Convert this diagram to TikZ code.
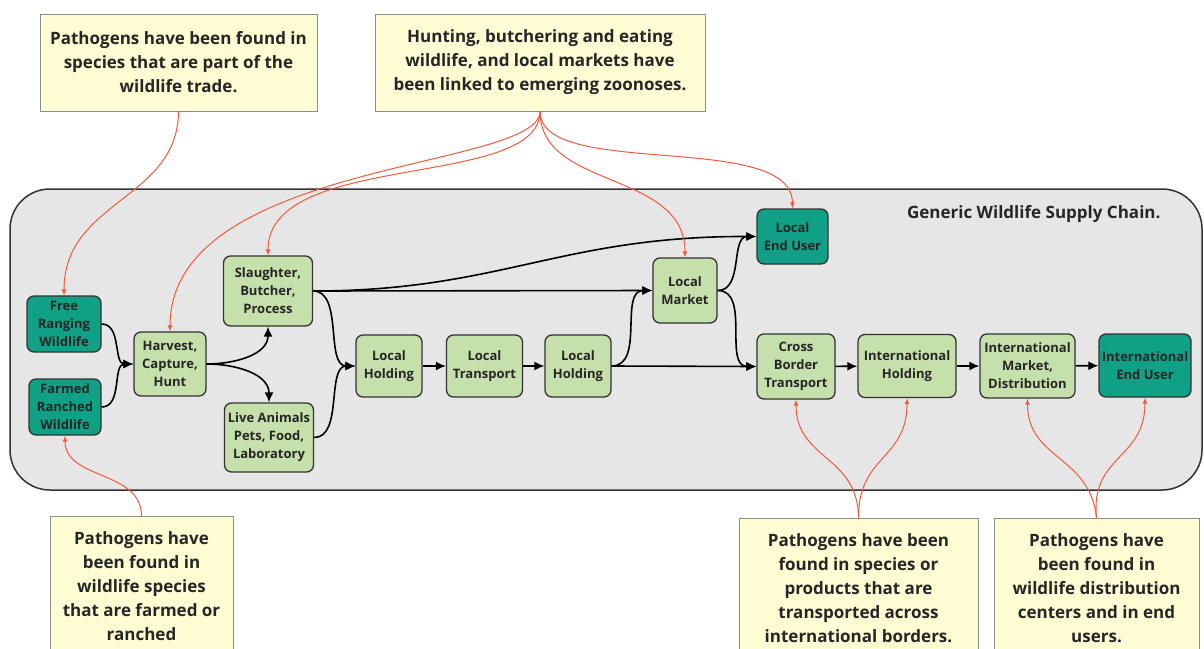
\documentclass[tikz,border=0pt]{standalone}
\usepackage{fontspec}
\setmainfont{Open Sans}
\usetikzlibrary{arrows.meta}
\definecolor{lg}{HTML}{C6E0AC}
\definecolor{dg}{HTML}{10A085}
\definecolor{panel}{HTML}{E6E6E6}
\definecolor{note}{HTML}{FEFCD2}
\definecolor{rd}{HTML}{F05A3C}
\definecolor{edge}{HTML}{333333}
\begin{document}
\begin{tikzpicture}[x=1pt,y=-1pt,
  stagebox/.style={draw=edge,line width=1.3pt,rounded corners=7pt,fill=lg,align=center,
    font=\bfseries\fontsize{13}{18}\selectfont,inner sep=0pt,text=black!85},
  endbox/.style={stagebox,fill=dg},
  notebox/.style={draw=black!45,line width=0.8pt,fill=note,align=center,inner sep=0pt,
    font=\bfseries\fontsize{17}{24}\selectfont,text=black!85},
  flow/.style={line width=1.6pt,-{Latex[length=10pt,width=9pt]}},
  link/.style={draw=rd,line width=1pt,-{Latex[length=6pt,width=5pt]}}
]
\useasboundingbox (0,0) rectangle (1204,648);
% panel
\node[draw=edge,line width=1.5pt,fill=panel,rounded corners=40pt,minimum width=1192pt,minimum height=301pt,inner sep=0pt] (panel) at (606,339.5) {};
\node[anchor=east,font=\bfseries\fontsize{17}{20}\selectfont,text=black!85] (title) at (1164,214) {Generic Wildlife Supply Chain.};

% callouts
\node[notebox,minimum width=277pt,minimum height=97pt] (ntl) at (178.5,62.5) {Pathogens have been found in\\species that are part of the\\wildlife trade.};
\node[notebox,minimum width=330pt,minimum height=97pt] (ntm) at (540,62.5) {Hunting, butchering and eating\\wildlife, and local markets have\\been linked to emerging zoonoses.};
\node[notebox,minimum width=183pt,minimum height=140pt,anchor=north] (nbl) at (141.5,516) {Pathogens have\\been found in\\wildlife species\\that are farmed or\\ranched};
\node[notebox,minimum width=239pt,minimum height=140pt,anchor=north] (nbm) at (858.5,518) {Pathogens have been\\found in species or\\products that are\\transported across\\international borders.};
\node[notebox,minimum width=205pt,minimum height=140pt,anchor=north] (nbr) at (1096.5,518) {Pathogens have\\been found in\\wildlife distribution\\centers and in end\\users.};

% stages
\node[endbox,minimum width=74pt,minimum height=56pt] (free) at (64,324) {Free\\Ranging\\Wildlife};
\node[endbox,minimum width=72pt,minimum height=56pt] (farm) at (65,407) {Farmed\\Ranched\\Wildlife};
\node[stagebox,minimum width=72pt,minimum height=64pt] (harv) at (170,364) {Harvest,\\Capture,\\Hunt};
\node[stagebox,minimum width=89pt,minimum height=70pt] (slau) at (268,291) {Slaughter,\\Butcher,\\Process};
\node[stagebox,minimum width=89pt,minimum height=69pt] (live) at (269,437.5) {Live Animals\\Pets, Food,\\Laboratory};
\node[stagebox,minimum width=66pt,minimum height=62pt] (lh1) at (389,366) {Local\\Holding};
\node[stagebox,minimum width=76pt,minimum height=62pt] (lt) at (484.5,366) {Local\\Transport};
\node[stagebox,minimum width=66pt,minimum height=62pt] (lh2) at (578,366) {Local\\Holding};
\node[stagebox,minimum width=64pt,minimum height=65pt] (lm) at (685,290.5) {Local\\Market};
\node[endbox,minimum width=71pt,minimum height=55pt] (leu) at (792.5,236.5) {Local\\End User};
\node[stagebox,minimum width=78pt,minimum height=65pt] (cb) at (796,366.5) {Cross\\Border\\Transport};
\node[stagebox,minimum width=98pt,minimum height=63pt] (ih) at (907,366) {International\\Holding};
\node[stagebox,minimum width=95pt,minimum height=64pt] (im) at (1027.5,366) {International\\Market,\\Distribution};
\node[endbox,minimum width=92pt,minimum height=63pt] (ieu) at (1145,365.5) {International\\End User};

% black flows
\draw[flow] (free.east) to[out=0,in=180] (harv.west);
\draw[flow] (farm.east) to[out=0,in=180] (harv.west);
\draw[flow] (harv.east) to[out=0,in=-90] (slau.south);
\draw[flow] (harv.east) to[out=0,in=90] (live.north);
\draw[flow] (slau.east) to[out=0,in=180,looseness=0.9] (lh1.west);
\draw[flow] (live.east) to[out=0,in=180,looseness=0.9] (lh1.west);
\draw[flow] (slau.east) -- (lm.west);
\draw[flow] (slau.east) .. controls (500,291) and (560,236) .. (leu.west);
\draw[flow] (lh1) -- (lt);
\draw[flow] (lt) -- (lh2);
\draw[flow] (lh2.east) to[out=0,in=180] (lm.west);
\draw[flow] (lh2.east) -- (cb.west);
\draw[flow] (lm.east) to[out=0,in=180] (leu.west);
\draw[flow] (lm.east) to[out=0,in=180] (cb.west);
\draw[flow] (cb) -- (ih);
\draw[flow] (ih) -- (im);
\draw[flow] (im) -- (ieu);

% red links
\draw[link] (ntl.south) .. controls (178,200) and (64,200) .. (free.north);
\draw[link] (ntm.south) .. controls (540,170) and (170,160) .. (harv.north);
\draw[link] (ntm.south) .. controls (540,190) and (268,150) .. (slau.north);
\draw[link] (ntm.south) .. controls (540,190) and (685,170) .. (lm.north);
\draw[link] (ntm.south) .. controls (540,180) and (792,130) .. (leu.north);
\draw[link] (nbl.north) .. controls (141.5,470) and (65,480) .. (farm.south);
\draw[link] (nbm.north) .. controls (858,455) and (796,460) .. (cb.south);
\draw[link] (nbm.north) .. controls (858,455) and (907,460) .. (ih.south);
\draw[link] (nbr.north) .. controls (1090,455) and (1027.5,460) .. (im.south);
\draw[link] (nbr.north) .. controls (1090,455) and (1145,460) .. (ieu.south);
\end{tikzpicture}
\end{document}
